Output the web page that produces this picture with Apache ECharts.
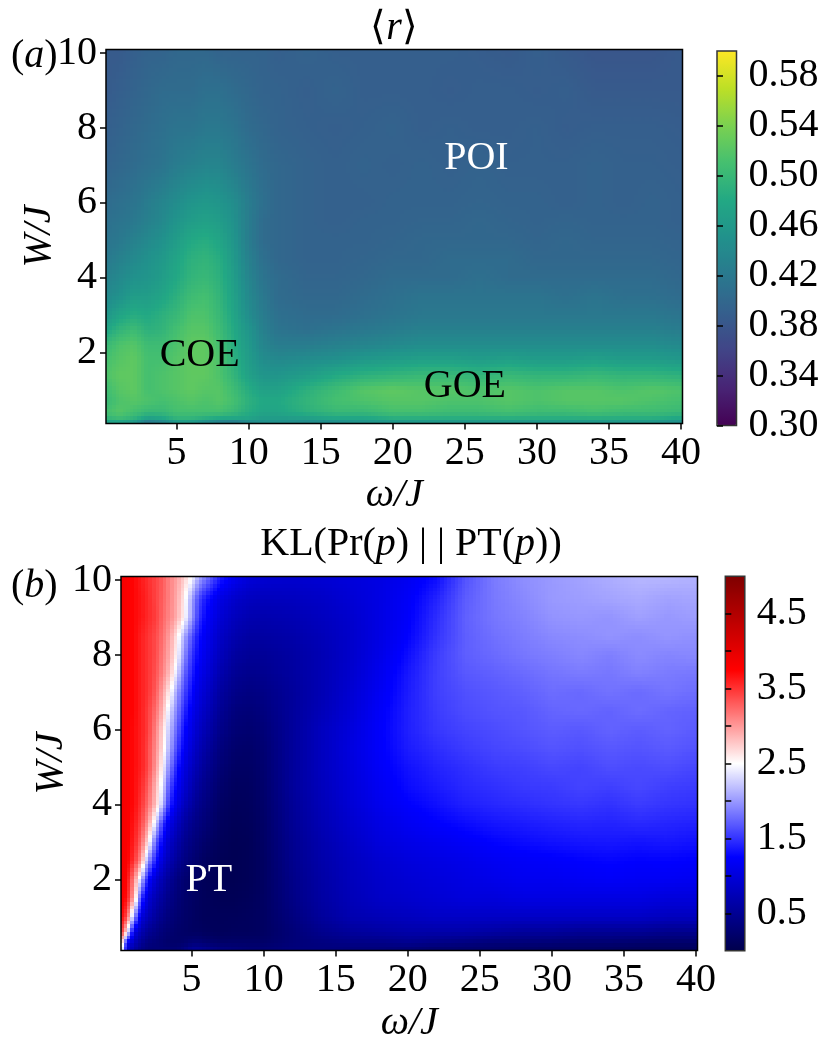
<!DOCTYPE html>
<html><head><meta charset="utf-8">
<style>html,body{margin:0;padding:0;background:#fff}#c{width:826px;height:1040px}</style>
<script src="https://cdn.jsdelivr.net/npm/echarts@6/dist/echarts.min.js"></script>
</head><body><div id="c"></div>
<script>
const rOmega=[0.1,1,2,3,4,5,6,7,8,9,10,11,12,14,16,18,20,22,24,26,28,30,32,34,36,38,40.1];
const rW=[0.1,0.2,0.4,0.7,1,1.4,1.8,2.2,2.6,3,3.5,4,4.5,5,5.5,6,7,8,9,10.1];
const rValues=[
[.45,.45,.44,.39,.41,.44,.44,.42,.40,.39,.42,.44,.44,.43,.43,.44,.44,.44,.44,.44,.44,.44,.44,.44,.44,.44,.43],
[.49,.50,.49,.46,.47,.49,.49,.48,.47,.47,.47,.46,.46,.46,.47,.47,.48,.48,.48,.48,.48,.48,.48,.48,.48,.48,.47],
[.51,.52,.51,.50,.50,.51,.51,.51,.51,.50,.485,.475,.475,.49,.50,.50,.51,.51,.505,.505,.51,.505,.505,.51,.505,.505,.50],
[.50,.515,.52,.515,.51,.515,.52,.515,.52,.51,.49,.48,.48,.495,.51,.515,.52,.52,.515,.515,.52,.515,.52,.52,.52,.515,.51],
[.505,.52,.525,.51,.515,.52,.525,.52,.52,.505,.485,.47,.47,.49,.505,.52,.525,.52,.52,.515,.52,.515,.52,.52,.515,.52,.515],
[.515,.525,.525,.51,.515,.52,.525,.525,.515,.495,.47,.455,.455,.465,.48,.49,.495,.50,.50,.495,.50,.495,.495,.50,.495,.495,.49],
[.51,.52,.525,.51,.51,.52,.525,.525,.515,.49,.465,.445,.44,.445,.45,.46,.465,.47,.47,.465,.47,.465,.465,.47,.465,.465,.46],
[.50,.515,.52,.505,.505,.515,.525,.525,.51,.485,.46,.435,.425,.425,.43,.435,.44,.445,.445,.445,.445,.445,.445,.445,.445,.445,.44],
[.475,.495,.505,.49,.495,.51,.52,.52,.505,.48,.455,.43,.415,.41,.415,.42,.425,.43,.43,.43,.43,.43,.43,.43,.43,.43,.425],
[.455,.475,.485,.48,.49,.50,.515,.515,.50,.475,.445,.425,.41,.405,.405,.41,.415,.42,.42,.42,.42,.42,.42,.42,.42,.42,.415],
[.44,.45,.465,.465,.475,.49,.505,.51,.495,.47,.44,.42,.405,.40,.40,.405,.41,.415,.415,.415,.415,.415,.41,.415,.41,.41,.405],
[.43,.44,.45,.455,.465,.48,.495,.50,.49,.465,.435,.415,.405,.397,.397,.40,.405,.405,.405,.41,.405,.405,.405,.405,.405,.405,.40],
[.42,.43,.44,.45,.46,.475,.49,.495,.485,.46,.43,.41,.40,.395,.395,.397,.40,.40,.405,.405,.405,.40,.40,.40,.40,.40,.397],
[.415,.42,.43,.44,.45,.465,.48,.485,.475,.455,.425,.405,.40,.395,.395,.395,.397,.40,.40,.40,.40,.397,.40,.397,.397,.397,.395],
[.41,.415,.42,.43,.44,.455,.465,.47,.465,.45,.425,.405,.40,.395,.392,.395,.395,.397,.397,.40,.397,.395,.397,.395,.395,.395,.392],
[.405,.41,.415,.425,.435,.445,.455,.46,.455,.445,.425,.41,.40,.395,.392,.392,.395,.395,.395,.397,.395,.395,.392,.395,.392,.395,.392],
[.395,.40,.405,.41,.415,.425,.43,.435,.435,.425,.415,.405,.40,.395,.392,.395,.392,.395,.392,.395,.392,.392,.392,.395,.392,.392,.39],
[.39,.395,.40,.405,.41,.415,.415,.42,.42,.415,.405,.40,.395,.392,.39,.392,.395,.39,.392,.39,.39,.392,.388,.39,.39,.39,.388],
[.385,.39,.395,.40,.405,.405,.405,.41,.41,.405,.40,.395,.395,.39,.395,.39,.39,.39,.388,.39,.39,.388,.39,.385,.385,.385,.385],
[.385,.385,.39,.395,.395,.40,.40,.40,.395,.395,.395,.395,.39,.395,.39,.39,.39,.39,.39,.388,.385,.39,.385,.38,.38,.38,.385]
];
const klOmega=[0.1,0.5,1,1.5,2,2.5,3,3.5,4,4.5,5,5.5,6,7,8,9,10,12,14,16,18,20,22,24,26,28,30,32,34,36,38,40.1];
const klW=[0.1,0.3,0.6,1,1.5,2,2.5,3,3.5,4,4.5,5,5.5,6,6.5,7,7.5,8,8.5,9,9.5,10.1];
const klValues=[
[2.8,1.0,.6,.4,.3,.3,.3,.3,.3,.4,.55,.55,.5,.4,.35,.3,.3,.35,.35,.3,.3,.25,.2,.2,.2,.15,.15,.15,.12,.1,.1,.1],
[3.0,1.2,.75,.5,.35,.3,.25,.2,.2,.22,.3,.3,.25,.2,.2,.2,.2,.3,.35,.4,.4,.45,.4,.35,.3,.3,.28,.25,.25,.22,.2,.2],
[3.6,2.6,1.05,.7,.5,.4,.3,.25,.2,.18,.15,.15,.12,.1,.12,.12,.15,.3,.45,.55,.6,.65,.65,.65,.6,.55,.55,.5,.5,.5,.45,.45],
[3.75,3.4,2.0,1.0,.75,.55,.42,.32,.25,.2,.16,.12,.1,.1,.1,.12,.15,.35,.55,.7,.75,.8,.85,.85,.85,.85,.85,.85,.85,.85,.8,.8],
[3.8,3.7,2.9,1.5,.95,.7,.55,.4,.3,.22,.17,.13,.1,.07,.07,.1,.15,.4,.6,.75,.85,.9,.95,1.0,1.0,1.05,1.05,1.05,1.05,1.05,1.0,1.0],
[3.85,3.75,3.1,2.2,1.3,.9,.7,.5,.35,.25,.18,.12,.08,.05,.05,.08,.15,.42,.62,.78,.88,.95,1,1.05,1.1,1.15,1.15,1.18,1.2,1.18,1.18,1.15],
[3.85,3.8,3.5,3.0,2.0,1.35,.95,.7,.52,.38,.28,.2,.13,.07,.05,.08,.15,.45,.65,.8,.92,1,1.05,1.1,1.16,1.2,1.22,1.25,1.27,1.25,1.26,1.24],
[3.85,3.8,3.6,3.25,2.65,1.7,1.2,.85,.65,.48,.36,.28,.2,.1,.06,.08,.17,.47,.68,.85,1,1.08,1.14,1.2,1.26,1.3,1.33,1.35,1.36,1.34,1.36,1.33],
[3.85,3.8,3.65,3.4,3.0,2.3,1.5,1.05,.8,.6,.45,.36,.28,.13,.08,.1,.18,.5,.72,.9,1.05,1.16,1.24,1.3,1.35,1.38,1.41,1.43,1.42,1.45,1.43,1.41],
[3.85,3.8,3.7,3.5,3.2,2.8,2.15,1.4,1.05,.8,.6,.45,.35,.17,.1,.12,.2,.52,.75,.95,1.12,1.24,1.32,1.4,1.44,1.47,1.5,1.52,1.49,1.54,1.51,1.49],
[3.85,3.8,3.7,3.55,3.3,2.85,2.35,1.6,1.2,.95,.72,.55,.42,.22,.13,.14,.22,.55,.78,.98,1.16,1.3,1.38,1.45,1.49,1.53,1.54,1.58,1.56,1.6,1.56,1.54],
[3.85,3.8,3.7,3.6,3.4,3.0,2.5,1.85,1.35,1.05,.82,.65,.5,.28,.17,.17,.24,.55,.8,1,1.2,1.33,1.42,1.48,1.54,1.56,1.6,1.58,1.63,1.61,1.63,1.59],
[3.85,3.8,3.7,3.6,3.4,3.05,2.65,2.05,1.55,1.2,.95,.75,.6,.34,.22,.2,.26,.55,.8,1.02,1.22,1.38,1.47,1.54,1.59,1.62,1.66,1.64,1.68,1.66,1.69,1.65],
[3.85,3.8,3.7,3.6,3.45,3.1,2.7,2.15,1.7,1.3,1.05,.85,.7,.42,.28,.25,.3,.55,.8,1,1.22,1.4,1.52,1.58,1.62,1.66,1.7,1.68,1.73,1.7,1.73,1.69],
[3.85,3.8,3.72,3.6,3.45,3.2,2.85,2.3,1.85,1.45,1.15,.95,.8,.5,.33,.3,.35,.55,.75,.96,1.2,1.4,1.54,1.62,1.66,1.68,1.74,1.76,1.73,1.78,1.74,1.72],
[3.85,3.8,3.72,3.6,3.5,3.3,2.95,2.55,2.0,1.6,1.28,1.05,.9,.58,.42,.37,.4,.55,.72,.93,1.16,1.38,1.56,1.64,1.68,1.72,1.78,1.76,1.81,1.77,1.82,1.78],
[3.85,3.8,3.72,3.6,3.5,3.35,3.1,2.8,2.3,1.75,1.4,1.15,1,.68,.5,.45,.47,.58,.72,.9,1.12,1.36,1.56,1.68,1.72,1.77,1.82,1.85,1.83,1.88,1.85,1.83],
[3.85,3.8,3.72,3.6,3.5,3.38,3.15,2.9,2.5,1.95,1.5,1.25,1.08,.78,.58,.52,.52,.6,.72,.88,1.08,1.31,1.55,1.71,1.77,1.83,1.87,1.91,1.87,1.93,1.9,1.92],
[3.85,3.8,3.72,3.6,3.5,3.38,3.2,2.95,2.6,2.1,1.65,1.32,1.15,.85,.68,.6,.6,.65,.75,.88,1.05,1.25,1.5,1.71,1.8,1.86,1.92,1.94,1.97,1.94,1.98,1.95],
[3.85,3.8,3.72,3.65,3.55,3.45,3.25,3.08,2.88,2.55,2.0,1.5,1.25,.95,.78,.7,.68,.72,.8,.9,1.05,1.22,1.47,1.72,1.83,1.89,1.97,1.99,1.97,2.03,1.99,2.02],
[3.85,3.8,3.72,3.65,3.55,3.42,3.28,3.1,2.9,2.6,2.05,1.6,1.35,1.05,.88,.8,.78,.8,.85,.95,1.05,1.2,1.42,1.7,1.84,1.92,2.0,2.02,2.05,2.08,2.04,2.06],
[3.85,3.8,3.72,3.62,3.52,3.42,3.3,3.1,2.95,2.75,2.5,2.1,1.85,1.4,1.15,1.0,.95,.92,.95,1,1.05,1.15,1.3,1.65,1.85,1.95,2.0,2.05,2.1,2.15,2.15,2.12]
];
const omegaTicks=[5,10,15,20,25,30,35,40];
const wTicks=[2,4,6,8,10];
const rBarTicks=[0.30,0.34,0.38,0.42,0.46,0.50,0.54,0.58];
const klBarTicks=[0.5,1,1.5,2,2.5,3,3.5,4,4.5];
const klBarLabels=[0.5,1.5,2.5,3.5,4.5];
const rNotes=[['COE',6.6,1.93,'#000'],['GOE',25,1.1,'#000'],['POI',25.8,7.19,'#fff']];
const klNotes=[['PT',6.2,1.98,'#fff']];
const viridis=['#440154','#482475','#414487','#355f8d','#2a788e','#21918c','#22a884','#44bf70','#7ad151','#bddf26','#fde725'];
const seismic=['rgb(0,0,76)','rgb(0,0,255)','#ffffff','rgb(255,0,0)','rgb(127,0,0)'];

const FONT='Liberation Serif';
const TICK=40;
function cellData(X,Y,Z){const d=[];Y.forEach((y,j)=>X.forEach((x,i)=>d.push([x,y,Z[j][i],i,j])));return d;}
function shaded(X,Y,Z,lo,hi,pal){
  const STEP=4;
  return function(params,api){
    const i=api.value(3),j=api.value(4);
    if(i>=X.length-1||j>=Y.length-1) return null;
    const a=api.coord([X[i],Y[j]]),b=api.coord([X[i+1],Y[j+1]]);
    const w=b[0]-a[0],h=a[1]-b[1];
    const nx=Math.max(1,Math.ceil(w/STEP)),ny=Math.max(1,Math.ceil(h/STEP));
    const ch=[];
    for(let p=0;p<nx;p++){
      const x0=Math.round(a[0]+w*p/nx),x1=Math.round(a[0]+w*(p+1)/nx),u=(p+.5)/nx;
      for(let q=0;q<ny;q++){
        const y1=Math.round(a[1]-h*q/ny),y0=Math.round(a[1]-h*(q+1)/ny),v=(q+.5)/ny;
        if(x1<=x0||y1<=y0) continue;
        const val=Z[j][i]*(1-u)*(1-v)+Z[j][i+1]*u*(1-v)+Z[j+1][i]*(1-u)*v+Z[j+1][i+1]*u*v;
        ch.push({type:'rect',shape:{x:x0,y:y0,width:x1-x0,height:y1-y0},style:{fill:echarts.color.lerp((val-lo)/(hi-lo),pal)},silent:true});
      }
    }
    return {type:'group',children:ch};
  };
}
const ital={fontFamily:FONT,fontStyle:'italic',fontWeight:'normal',fontSize:TICK,color:'#000'};
const rom={fontFamily:FONT,fontWeight:'normal',fontSize:TICK,color:'#000'};
function xAx(g,name,gap){return {type:'value',gridIndex:g,min:0.1,max:40.1,z:5,splitLine:{show:false},
  axisLine:{show:false},axisTick:{show:true,length:6,lineStyle:{width:1.5,color:'#000'},customValues:omegaTicks},
  axisLabel:{customValues:omegaTicks,fontFamily:FONT,fontSize:TICK,color:'#000',margin:10},
  name:name,nameLocation:'middle',nameGap:gap,nameMoveOverlap:false,nameTextStyle:ital};}
function yAx(g,name,gap,pad){return {type:'value',gridIndex:g,min:0.1,max:10.1,z:5,splitLine:{show:false},
  axisLine:{show:false},axisTick:{show:true,length:6,lineStyle:{width:1.5,color:'#000'},customValues:wTicks},
  axisLabel:{customValues:wTicks,fontFamily:FONT,fontSize:TICK,color:'#000',margin:9,padding:[pad,0,0,0]},
  name:name,nameLocation:'middle',nameRotate:90,nameGap:gap,nameMoveOverlap:false,nameTextStyle:ital};}
function barX(g){return {type:'value',gridIndex:g,min:0,max:1,show:false};}
function barY(g,lo,hi,ticks,labels,fmt){return {type:'value',gridIndex:g,position:'right',min:lo,max:hi,z:11,splitLine:{show:false},
  axisLine:{show:false},axisTick:{show:true,length:6,lineStyle:{width:1.5,color:'#000'},customValues:ticks},
  axisLabel:{customValues:labels,formatter:fmt,fontFamily:FONT,fontSize:TICK,color:'#000',margin:12,padding:[3,0,0,0]}};}
function notes(list,g){return {type:'scatter',xAxisIndex:g,yAxisIndex:g,symbolSize:0,silent:true,z:6,itemStyle:{opacity:1},
  data:list.map(n=>({value:[n[1],n[2]],label:{show:true,opacity:1,position:'inside',formatter:n[0],fontFamily:FONT,fontSize:TICK,color:n[3]}}))};}
function heat(X,Y,Z,lo,hi,pal,g){return {type:'custom',coordinateSystem:'cartesian2d',xAxisIndex:g,yAxisIndex:g,silent:true,progressive:0,z:2,
  encode:{x:0,y:1},data:cellData(X,Y,Z),renderItem:shaded(X,Y,Z,lo,hi,pal)};}
function vm(si,lo,hi,pal,left,top){return {type:'continuous',seriesIndex:si,dimension:2,min:lo,max:hi,calculable:false,hoverLink:false,realtime:false,
  left:left,top:top,itemWidth:19.5,itemHeight:374.5,padding:0,inRange:{color:pal},orient:'vertical',text:null,showLabel:false,z:4};}
const gridBase={show:true,backgroundColor:'transparent',outerBoundsMode:'none'};
const chart=echarts.init(document.getElementById('c'),null,{renderer:'canvas',width:826,height:1040});
chart.setOption({
  animation:false,backgroundColor:'#fff',
  grid:[
    Object.assign({left:106,top:49.5,width:576.5,height:374,borderColor:'#000',borderWidth:1.5,z:5},gridBase),
    Object.assign({left:121,top:576.5,width:576.5,height:374,borderColor:'#000',borderWidth:1.5,z:5},gridBase),
    Object.assign({left:717,top:51,width:19.5,height:374.5,borderColor:'#333',borderWidth:1.5,z:10},gridBase),
    Object.assign({left:725.3,top:576.3,width:19.5,height:374.5,borderColor:'#333',borderWidth:1.5,z:10},gridBase)
  ],
  xAxis:[xAx(0,'ω/J',52),xAx(1,'ω/J',53),barX(2),barX(3)],
  yAxis:[yAx(0,'W/J',47,9),yAx(1,'W/J',50,6),
    barY(2,0.30,0.60,rBarTicks,rBarTicks,v=>v.toFixed(2)),
    barY(3,0,5,klBarTicks,klBarLabels,v=>v.toFixed(1))],
  visualMap:[vm(0,0.30,0.60,viridis,717,51),vm(2,0,5,seismic,725.3,576.3)],
  series:[heat(rOmega,rW,rValues,0.30,0.60,viridis,0),notes(rNotes,0),heat(klOmega,klW,klValues,0,5,seismic,1),notes(klNotes,1)],
  title:[
    {text:'{n|⟨}{i|r}{n|⟩}',left:394,top:8,textAlign:'center',padding:0,textStyle:{fontWeight:'normal',rich:{n:rom,i:ital}}},
    {text:'{n|KL(Pr(}{i|p}{n|) | | PT(}{i|p}{n|))}',left:411,top:524,textAlign:'center',padding:0,textStyle:{fontWeight:'normal',rich:{n:rom,i:ital}}},
    {text:'{n|(}{i|a}{n|)}',left:11,top:36,padding:0,textStyle:{fontWeight:'normal',rich:{n:rom,i:ital}}},
    {text:'{n|(}{i|b}{n|)}',left:11,top:566,padding:0,textStyle:{fontWeight:'normal',rich:{n:rom,i:ital}}}
  ]
});
</script></body></html>
